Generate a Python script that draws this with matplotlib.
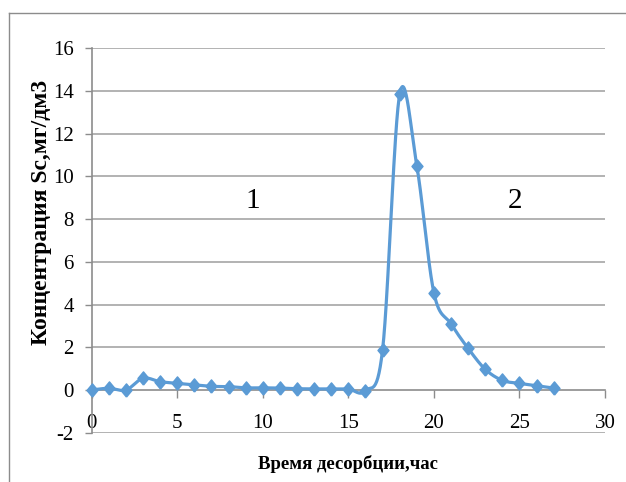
import matplotlib
matplotlib.use("Agg")
import matplotlib.pyplot as plt
from matplotlib.lines import Line2D
import numpy as np

# data
hours = [0, 1, 2, 3, 4, 5, 6, 7, 8, 9, 10, 11, 12, 13,
         14, 15, 16, 17, 18, 19, 20, 21, 22, 23, 24, 25, 26, 27]
conc = [0.0, 0.08, 0.0, 0.55, 0.39, 0.31, 0.24, 0.17, 0.16, 0.1, 0.1, 0.09, 0.06, 0.05,
        0.05, 0.05, -0.03, 1.88, 13.85, 10.5, 4.55, 3.1, 1.95, 0.97, 0.45, 0.31, 0.2, 0.09]
x_ticks = [0, 5, 10, 15, 20, 25, 30]
y_ticks = [-2, 0, 2, 4, 6, 8, 10, 12, 14, 16]
zone_labels = ["1", "2"]
zone_pos = [(9.4, 8.85), (24.75, 8.85)]

plt.rcParams['font.family'] = ['Liberation Serif', 'DejaVu Serif']
plt.rcParams['axes.unicode_minus'] = False


def smooth(xs, ys, n=30):
    # Excel-like smoothed line: Catmull-Rom as cubic Bezier segments
    p = np.column_stack([xs, ys]).astype(float)
    p = np.vstack([p[0], p, p[-1]])
    out = []
    t = np.linspace(0, 1, n)[:, None]
    for i in range(1, len(p) - 2):
        p0, p1, p2, p3 = p[i - 1], p[i], p[i + 1], p[i + 2]
        c1 = p1 + (p2 - p0) / 6
        c2 = p2 - (p3 - p1) / 6
        seg = ((1 - t) ** 3) * p1 + 3 * t * (1 - t) ** 2 * c1 + 3 * t ** 2 * (1 - t) * c2 + t ** 3 * p2
        out.append(seg)
    out = np.vstack(out)
    return out[:, 0], out[:, 1]


fig = plt.figure(figsize=(6.26, 4.82), dpi=100)
# chart border (right and bottom edges fall outside the picture)
bx, by = 8.5 / 626, 1 - 12.5 / 482
fig.add_artist(Line2D([bx, bx], [-0.05, by], transform=fig.transFigure,
                      color='#8c8c8c', lw=1.0))
fig.add_artist(Line2D([bx, 1.05], [by, by], transform=fig.transFigure,
                      color='#8c8c8c', lw=1.0))

ax = fig.add_axes([91.7 / 626, 1 - 432.7 / 482, (605 - 91.7) / 626, (432.7 - 48.3) / 482])
ax.set_xlim(0, 30)
ax.set_ylim(-2, 16)

for yv in y_ticks:
    if yv != 0:
        ax.axhline(yv, color='#a6a6a6', lw=1.2, zorder=1)

for s in ['top', 'right']:
    ax.spines[s].set_visible(False)
ax.spines['bottom'].set_position(('data', 0))
ax.spines['bottom'].set_color('#8c8c8c')
ax.spines['left'].set_color('#8c8c8c')
ax.spines['bottom'].set_linewidth(1.2)
ax.spines['left'].set_linewidth(1.2)

ax.set_xticks(x_ticks)
ax.set_yticks(y_ticks)
ax.tick_params(axis='x', direction='out', length=6, width=1.0, color='#8c8c8c',
               pad=11, labelsize=15)
ax.tick_params(axis='y', direction='out', length=5, width=1.0, color='#8c8c8c',
               pad=8, labelsize=15)

sx, sy = smooth(hours, conc)
ax.plot(sx, sy, color='#5b9bd5', lw=2.3, zorder=3, clip_on=False)
diamond = [(0, -1.2), (1.0, 0), (0, 1.2), (-1.0, 0), (0, -1.2)]
ax.plot(hours, conc, ls='none', marker=diamond, markersize=9.5,
        color='#5b9bd5', zorder=4, clip_on=False)

for lab, (tx, ty) in zip(zone_labels, zone_pos):
    ax.text(tx, ty, lab, fontsize=21, ha='center', va='center')

fig.text(42 / 626, 1 - 212 / 482, "Концентрация Sc,мг/дм3", rotation=90,
         fontsize=17, fontweight='bold', ha='center', va='center')
fig.text(348 / 626, 1 - 464 / 482, "Время десорбции,час",
         fontsize=13.5, fontweight='bold', ha='center', va='center')

fig.savefig("out.png", dpi=100)
